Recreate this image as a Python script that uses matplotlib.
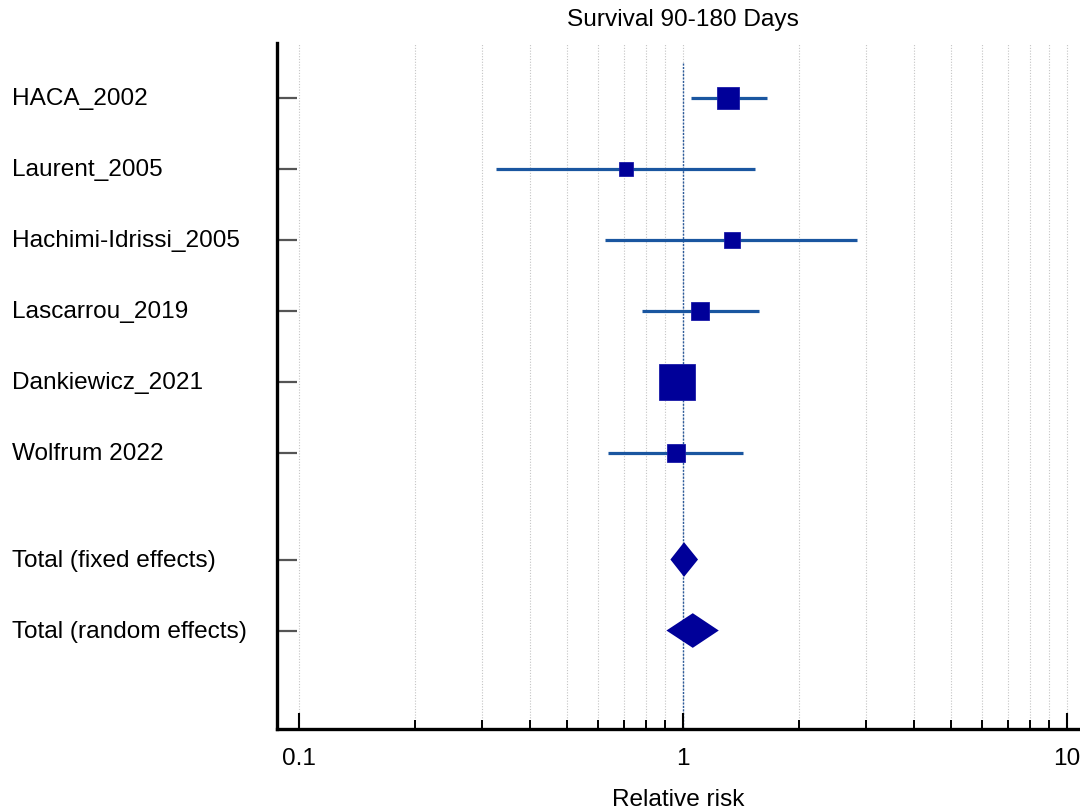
import numpy as np
import matplotlib
matplotlib.use("Agg")
import matplotlib.pyplot as plt
from matplotlib.ticker import NullFormatter, FixedLocator, FixedFormatter
from matplotlib.transforms import blended_transform_factory

plt.rcParams['font.family'] = ['Liberation Sans', 'DejaVu Sans']

# Study-level estimates (relative risk with 95% CI) and weights (%)
studies = ['HACA_2002', 'Laurent_2005', 'Hachimi-Idrissi_2005',
           'Lascarrou_2019', 'Dankiewicz_2021', 'Wolfrum 2022']
rr = [1.31, 0.71, 1.34, 1.11, 0.963, 0.958]
ci_low = [1.05, 0.325, 0.626, 0.78, 0.88, 0.637]
ci_high = [1.65, 1.535, 2.83, 1.58, 1.05, 1.43]
weights = [15.7, 7.4, 9.0, 11.3, 45.3, 11.3]

# Pooled estimates
pooled_labels = ['Total (fixed effects)', 'Total (random effects)']
pooled_rr = [1.006, 1.06]
pooled_low = [0.927, 0.905]
pooled_high = [1.094, 1.239]

title = 'Survival 90-180 Days'
xlabel = 'Relative risk'

navy = '#000099'
line_blue = '#1a56a0'

fig = plt.figure(figsize=(10.8, 8.12), dpi=100)
ax = fig.add_axes([277 / 1080, 82 / 812, 803 / 1080, 686 / 812])

study_y = np.arange(1, len(studies) + 1)
pooled_y = np.array([7.5, 8.5])

ax.set_xscale('log')
ax.set_xlim(0.0876, 10.81)
ax.set_ylim(9.887, 0.225)

# grid lines at every decade step between 0.1 and 10
grid_vals = [m * 10.0 ** e for e in (-1, 0) for m in range(1, 10)] + [10]
for g in grid_vals:
    ax.axvline(g, color='#c4c4c4', lw=0.8, ls=(0, (1, 1.5)), zorder=0)

# line of no effect
ax.vlines(1, 0.5, 9.887, color='#2b5a9b', lw=1.0, ls=(0, (1.5, 1)), zorder=1)

# confidence intervals and weighted squares
for y, est, lo, hi, w in zip(study_y, rr, ci_low, ci_high, weights):
    ax.plot([lo, hi], [y, y], color=line_blue, lw=2.3, solid_capstyle='butt', zorder=2)
    ax.plot(est, y, marker='s', color=navy, markersize=3.92 * np.sqrt(w),
            markeredgecolor='#1a1aa8', markeredgewidth=0.6, zorder=3)

# pooled diamonds
half_h = 0.244
for y, est, lo, hi in zip(pooled_y, pooled_rr, pooled_low, pooled_high):
    ax.fill([lo, est, hi, est], [y, y - half_h, y, y + half_h], color=navy, zorder=3, lw=0)

# spines
for side in ('top', 'right'):
    ax.spines[side].set_visible(False)
for side in ('left', 'bottom'):
    ax.spines[side].set_linewidth(2.4)
    ax.spines[side].set_color('black')

# x ticks
minor_vals = [m * 10.0 ** e for e in (-1, 0) for m in range(2, 10)]
ax.xaxis.set_major_locator(FixedLocator([0.1, 1, 10]))
ax.xaxis.set_major_formatter(FixedFormatter(['0.1', '1', '10']))
ax.xaxis.set_minor_locator(FixedLocator(minor_vals))
ax.xaxis.set_minor_formatter(NullFormatter())
ax.tick_params(axis='x', which='major', direction='in', length=11.5, width=1.5,
               labelsize=17.6, pad=13)
ax.tick_params(axis='x', which='minor', direction='in', length=6.5, width=1.4)

# y ticks (no labels, inward grey)
ax.set_yticks(list(study_y) + list(pooled_y))
ax.set_yticklabels([])
ax.tick_params(axis='y', which='major', direction='in', length=14.5, width=1.6,
               color='#555555')
ax.tick_params(axis='y', which='minor', left=False)

# row labels
trans = blended_transform_factory(fig.transFigure, ax.transData)
for y, lab in zip(list(study_y) + list(pooled_y), studies + pooled_labels):
    ax.text(12 / 1080, y, lab, transform=trans, ha='left', va='center',
            fontsize=17.6, clip_on=False)

ax.set_xlabel(xlabel, fontsize=17.6, labelpad=14)
fig.text(683 / 1080, 1 - 20 / 812, title, ha='center', va='center', fontsize=17.6)

fig.savefig('out.png', dpi=100)
